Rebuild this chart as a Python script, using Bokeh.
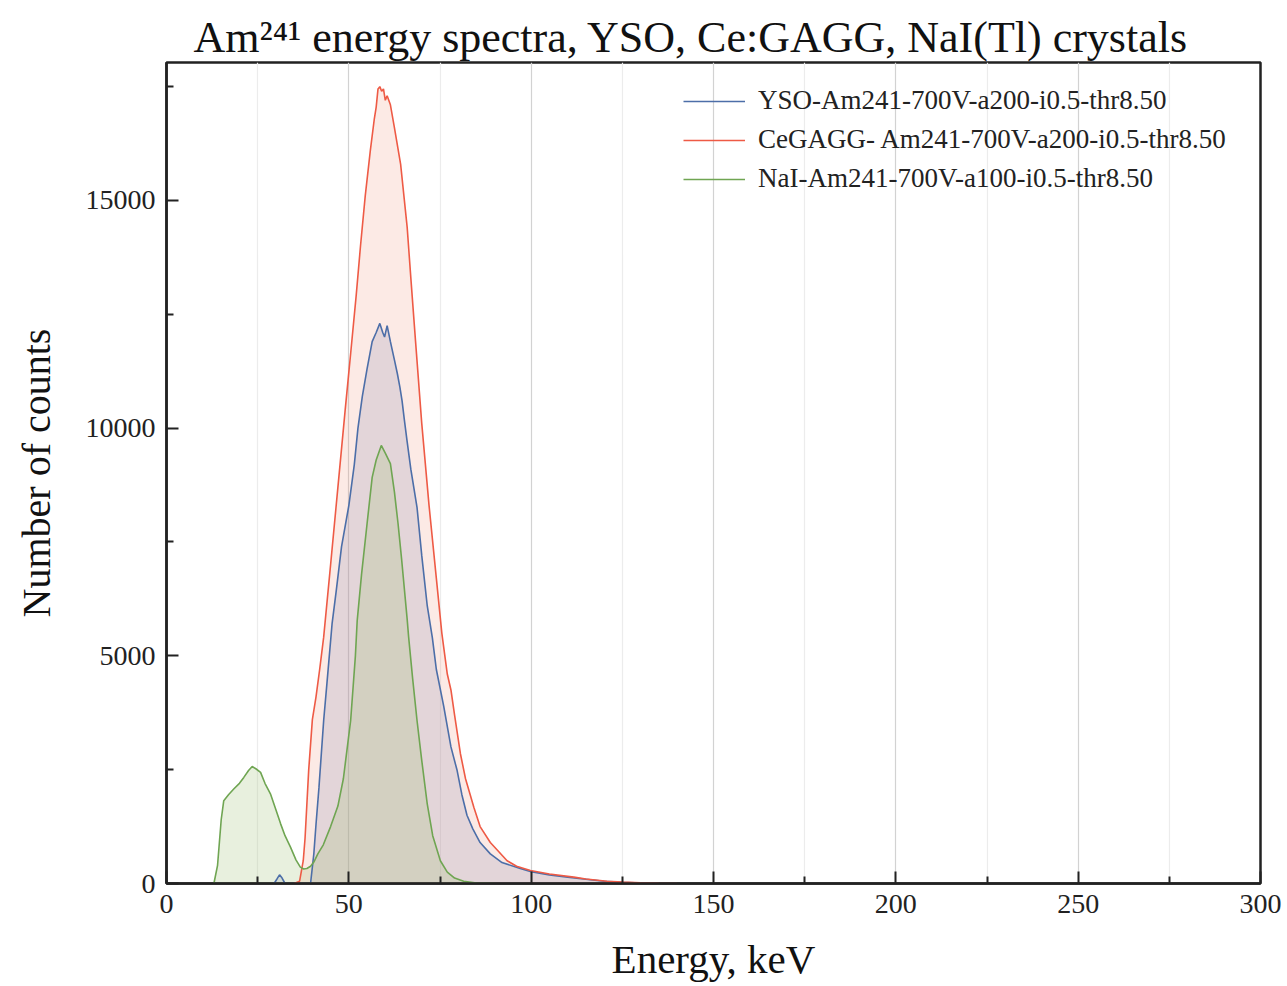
from bokeh.plotting import figure
from bokeh.models import Legend, LegendItem, Range1d, FixedTicker
from bokeh.embed import file_html
from bokeh.resources import INLINE

# ---- data ----
yso_energy = [29.5, 30.3, 31.0, 31.7, 32.5, 39.5, 40.4, 41.0, 41.8, 43.1, 44.0, 45.4, 46.5, 48.0,
              50.0, 51.5, 52.5, 53.7, 55.0, 56.4, 57.5, 58.5, 59.3, 59.8, 60.5, 61.4, 62.5, 63.3,
              64.0, 64.6, 65.2, 66.0, 67.0, 68.7, 70.0, 71.5, 72.9, 74.0, 76.0, 78.0, 79.7, 81.0,
              82.4, 84.0, 86.0, 88.8, 92.0, 97.0, 100.0, 105.0, 110.0, 115.0, 120.0, 125.0, 130.0, 135.0]
yso_counts = [0, 100, 190, 120, 0, 0, 650, 1300, 2100, 3580, 4400, 5700, 6400, 7400,
              8300, 9200, 10000, 10700, 11300, 11900, 12100, 12300, 12100, 12000, 12250, 11900, 11500, 11200,
              10900, 10600, 10200, 9700, 9100, 8260, 7200, 6100, 5400, 4700, 3900, 3000, 2480, 1950,
              1500, 1200, 900, 650, 460, 330, 260, 190, 140, 95, 50, 25, 10, 0]

gagg_energy = [35.0, 36.5, 37.5, 38.0, 39.0, 40.0, 41.0, 42.0, 43.1, 45.0, 47.0, 49.0, 50.5, 52.0,
               53.2, 54.5, 55.9, 57.0, 57.5, 58.0, 58.5, 59.0, 59.5, 60.0, 60.5, 61.4, 62.5, 64.2,
               66.0, 67.0, 68.3, 70.0, 72.0, 74.0, 75.5, 77.0, 78.0, 79.0, 80.6, 82.0, 84.3, 86.0,
               88.8, 93.4, 96.0, 99.8, 105.0, 111.7, 115.0, 120.8, 125.0, 130.0, 135.0, 140.0]
gagg_counts = [0, 50, 500, 1000, 2500, 3600, 4100, 4700, 5410, 7000, 8700, 10400, 11640, 12900,
               14000, 15100, 16100, 16800, 17050, 17450, 17500, 17400, 17450, 17200, 17300, 17100, 16600, 15800,
               14410, 13300, 11900, 10100, 8300, 6700, 5500, 4600, 4250, 3700, 2850, 2300, 1670, 1250,
               900, 500, 380, 285, 210, 140, 100, 50, 30, 15, 5, 0]

nai_energy = [13.0, 14.0, 15.0, 15.7, 17.0, 18.5, 20.0, 21.2, 22.5, 23.5, 24.5, 25.8, 27.0, 28.5,
              30.0, 31.3, 32.5, 34.0, 35.5, 36.7, 37.6, 38.5, 39.5, 40.4, 41.5, 43.0, 45.0, 47.0,
              48.5, 50.5, 51.8, 52.3, 53.5, 55.0, 56.4, 57.5, 58.9, 60.0, 61.4, 62.5, 63.5, 64.5,
              66.0, 66.4, 67.5, 68.7, 70.0, 71.5, 73.0, 75.1, 77.0, 79.0, 81.5, 85.0, 90.0]
nai_counts = [0, 400, 1400, 1820, 1950, 2080, 2200, 2330, 2480, 2570, 2520, 2440, 2200, 1970,
              1620, 1310, 1050, 800, 520, 360, 320, 330, 380, 470, 650, 850, 1250, 1700,
              2300, 3580, 5000, 5780, 6800, 7900, 8920, 9300, 9620, 9450, 9220, 8600, 7900, 7100,
              5800, 5410, 4500, 3580, 2700, 1750, 1050, 500, 250, 120, 50, 10, 0]

series_labels = ["YSO-Am241-700V-a200-i0.5-thr8.50",
                 "CeGAGG- Am241-700V-a200-i0.5-thr8.50",
                 "NaI-Am241-700V-a100-i0.5-thr8.50"]
x_ticks = [0, 50, 100, 150, 200, 250, 300]
y_ticks = [0, 5000, 10000, 15000]

FONT = "Liberation Serif"

p = figure(width=1287, height=986, output_backend="svg", toolbar_location=None,
           x_range=Range1d(0, 300), y_range=Range1d(0, 18030),
           min_border_left=166, min_border_right=27, min_border_top=62, min_border_bottom=103,
           title="Am\u00b2\u2074\u00b9 energy spectra, YSO, Ce:GAGG, NaI(Tl) crystals")

p.title.text_font = FONT
p.title.text_font_size = "44px"
p.title.text_font_style = "normal"
p.title.align = "left"
p.title.offset = 27
p.title.standoff = 2
p.title.text_color = "#111111"

p.background_fill_color = "white"
p.border_fill_color = "white"
p.outline_line_color = "#222222"
p.outline_line_width = 2.5

# fills
p.varea(x=gagg_energy, y1=0, y2=gagg_counts, fill_color="#f08a70", fill_alpha=0.18)
p.varea(x=yso_energy, y1=0, y2=yso_counts, fill_color="#8f8fb0", fill_alpha=0.22)
p.varea(x=nai_energy, y1=0, y2=nai_counts, fill_color="#a4c47a", fill_alpha=0.25)

# lines
r_yso = p.line(yso_energy, yso_counts, line_color="#4c6ea8", line_width=1.6)
r_gagg = p.line(gagg_energy, gagg_counts, line_color="#ee5a45", line_width=1.6)
r_nai = p.line(nai_energy, nai_counts, line_color="#6fa552", line_width=1.6)

# axes
for ax in (p.xaxis[0], p.yaxis[0]):
    ax.axis_line_color = "#222222"
    ax.axis_line_width = 2.5
    ax.major_tick_in = 12
    ax.major_tick_out = 0
    ax.minor_tick_in = 7
    ax.minor_tick_out = 0
    ax.major_tick_line_width = 2
    ax.minor_tick_line_width = 2
    ax.major_tick_line_color = "#222222"
    ax.minor_tick_line_color = "#222222"
    ax.major_label_text_font = FONT
    ax.major_label_text_font_size = "28px"
    ax.major_label_text_color = "#222222"
    ax.axis_label_text_font = FONT
    ax.axis_label_text_font_style = "normal"
    ax.axis_label_text_color = "#111111"

p.xaxis.axis_label_text_font_size = "41px"
p.yaxis.axis_label_text_font_size = "40px"
p.xaxis.ticker = FixedTicker(ticks=x_ticks, minor_ticks=[25, 75, 125, 175, 225, 275])
p.yaxis.ticker = FixedTicker(ticks=y_ticks, minor_ticks=[2500, 7500, 12500, 17500])
p.xaxis.axis_label = "Energy, keV"
p.yaxis.axis_label = "Number of counts"
p.xaxis.major_label_standoff = 11
p.yaxis.major_label_standoff = 11
p.xaxis.axis_label_standoff = 20
p.yaxis.axis_label_standoff = 24

p.xgrid.grid_line_color = "#d2d2d2"
p.xgrid.grid_line_width = 1.2
p.xgrid.minor_grid_line_color = "#ececec"
p.xgrid.minor_grid_line_width = 1.2
p.ygrid.grid_line_color = None

legend = Legend(items=[LegendItem(label=series_labels[0], renderers=[r_yso]),
                       LegendItem(label=series_labels[1], renderers=[r_gagg]),
                       LegendItem(label=series_labels[2], renderers=[r_nai])],
                location=(507, 679), margin=0, padding=10, spacing=8,
                glyph_width=62, glyph_height=30, label_height=30, label_standoff=13,
                label_text_font=FONT, label_text_font_size="27px", label_text_color="#222222",
                border_line_alpha=0, background_fill_alpha=0)
p.add_layout(legend)

open("out.html", "w").write(file_html(p, INLINE))
